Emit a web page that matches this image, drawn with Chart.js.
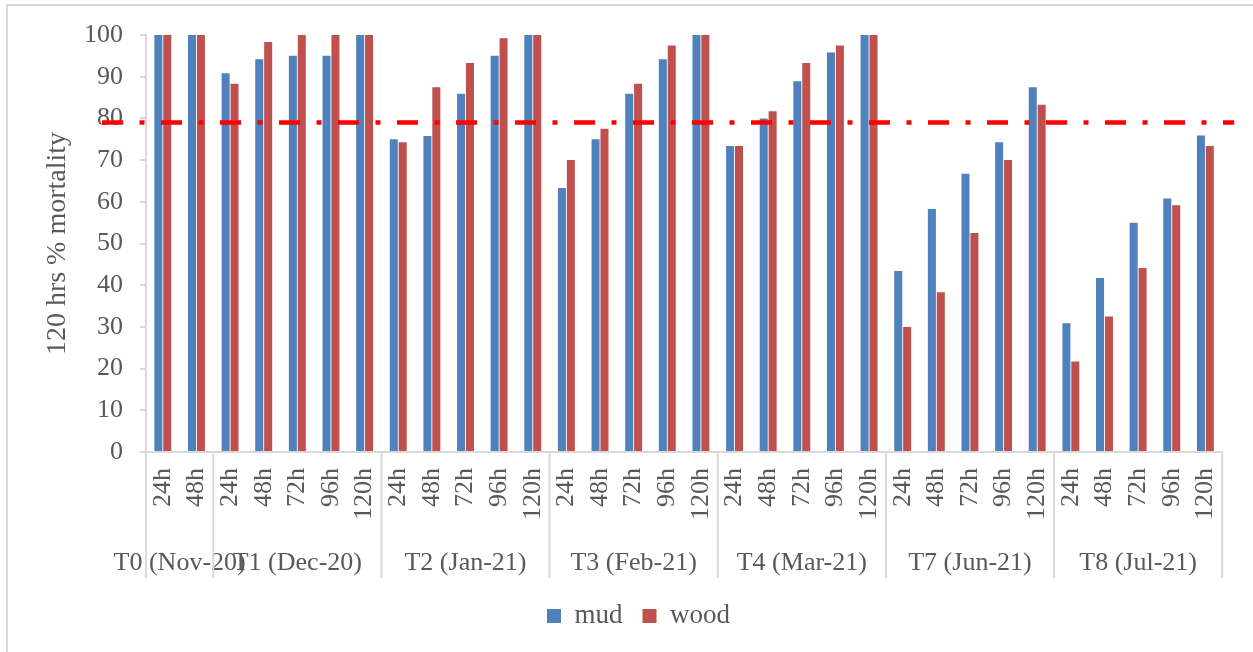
<!DOCTYPE html>
<html>
<head>
<meta charset="utf-8">
<script src="https://cdn.jsdelivr.net/npm/chart.js@4.4.1/dist/chart.umd.min.js"></script>
<style>
  html, body { margin: 0; padding: 0; background: #ffffff; }
  #wrap { position: relative; width: 1253px; height: 652px; }
</style>
</head>
<body>
<div id="wrap"><canvas id="chart"></canvas></div>
<script>
// Exposure-time labels for every bar pair, grouped by sampling round
const hourLabels = [
  '24h', '48h',
  '24h', '48h', '72h', '96h', '120h',
  '24h', '48h', '72h', '96h', '120h',
  '24h', '48h', '72h', '96h', '120h',
  '24h', '48h', '72h', '96h', '120h',
  '24h', '48h', '72h', '96h', '120h',
  '24h', '48h', '72h', '96h', '120h'
];
const roundNames = ['T0 (Nov-20)', 'T1 (Dec-20)', 'T2 (Jan-21)', 'T3 (Feb-21)', 'T4 (Mar-21)', 'T7 (Jun-21)', 'T8 (Jul-21)'];
const roundSizes = [2, 5, 5, 5, 5, 5, 5];

// % mortality after 120 hrs
const mud = [
  100, 100,
  90.8, 94.2, 95.0, 95.0, 100,
  75.0, 75.8, 85.9, 95.0, 100,
  63.3, 75.0, 85.9, 94.2, 100,
  73.4, 80.0, 88.9, 95.8, 100,
  43.4, 58.3, 66.7, 74.3, 87.5,
  30.9, 41.7, 55.0, 60.8, 75.9
];
const wood = [
  100, 100,
  88.3, 98.3, 100, 100, 100,
  74.3, 87.5, 93.3, 99.2, 100,
  70.0, 77.5, 88.3, 97.5, 100,
  73.4, 81.7, 93.3, 97.5, 100,
  30.0, 38.3, 52.5, 70.0, 83.3,
  21.7, 32.5, 44.1, 59.2, 73.4
];
const threshold = 79;

const FONT = "'Liberation Serif', 'Times New Roman', serif";
const TEXT = '#595959';
const LINE = '#D9D9D9';

// White background plus the light frame around the whole figure
const framePlugin = {
  id: 'frame',
  beforeDraw(chart) {
    const ctx = chart.ctx;
    ctx.save();
    ctx.fillStyle = '#ffffff';
    ctx.fillRect(0, 0, chart.width, chart.height);
    ctx.strokeStyle = LINE;
    ctx.lineWidth = 2;
    ctx.strokeRect(7, 5, chart.width + 20, chart.height + 20);
    ctx.restore();
  }
};

// Dash-dot reference line at the threshold value
const thresholdPlugin = {
  id: 'threshold',
  afterDatasetsDraw(chart) {
    const { ctx, chartArea } = chart;
    const y = chart.scales.y.getPixelForValue(threshold);
    ctx.save();
    ctx.strokeStyle = '#FF0000';
    ctx.lineWidth = 4.5;
    ctx.setLineDash([21, 16.5, 5, 16.5]);
    ctx.beginPath();
    ctx.moveTo(chartArea.left - 44, y);
    ctx.lineTo(chartArea.right + 12, y);
    ctx.stroke();
    ctx.restore();
  }
};

// Second level of the category axis: round names and divider lines
const roundAxisPlugin = {
  id: 'roundAxis',
  afterDraw(chart) {
    const { ctx, chartArea } = chart;
    const x = chart.scales.x;
    const half = (x.getPixelForValue(1) - x.getPixelForValue(0)) / 2;
    const top = chartArea.bottom;
    const bottom = top + 126;
    ctx.save();
    ctx.strokeStyle = LINE;
    ctx.lineWidth = 2;
    ctx.fillStyle = TEXT;
    ctx.font = '26px ' + FONT;
    ctx.textAlign = 'center';
    ctx.textBaseline = 'middle';
    let start = 0;
    roundSizes.forEach((n, g) => {
      const left = x.getPixelForValue(start) - half;
      const right = x.getPixelForValue(start + n - 1) + half;
      ctx.beginPath();
      ctx.moveTo(left, top);
      ctx.lineTo(left, bottom);
      if (g === roundSizes.length - 1) {
        ctx.moveTo(right, top);
        ctx.lineTo(right, bottom);
      }
      ctx.stroke();
      ctx.fillText(roundNames[g], (left + right) / 2, top + 111);
      start += n;
    });
    ctx.restore();
  }
};

new Chart(document.getElementById('chart'), {
  type: 'bar',
  data: {
    labels: hourLabels,
    datasets: [
      { label: 'mud', data: mud, backgroundColor: '#4F81BD', categoryPercentage: 0.53, barPercentage: 0.9 },
      { label: 'wood', data: wood, backgroundColor: '#C0504D', categoryPercentage: 0.53, barPercentage: 0.9 }
    ]
  },
  options: {
    responsive: true,
    maintainAspectRatio: false,
    animation: false,
    layout: { padding: { left: 51, right: 27, top: 35, bottom: 12.5 } },
    plugins: {
      legend: {
        position: 'bottom',
        labels: {
          boxWidth: 14,
          boxHeight: 14,
          padding: 20,
          color: TEXT,
          font: { family: FONT, size: 27 }
        }
      },
      tooltip: { enabled: false }
    },
    scales: {
      x: {
        grid: { display: false, drawTicks: false },
        border: { display: true, color: LINE, width: 2 },
        ticks: {
          autoSkip: false,
          minRotation: 90,
          maxRotation: 90,
          padding: 16,
          color: TEXT,
          font: { family: FONT, size: 26 }
        },
        afterFit(scale) { scale.height = 130.5; }
      },
      y: {
        min: 0,
        max: 100,
        grid: { drawOnChartArea: false, drawTicks: true, tickLength: 6, color: LINE, lineWidth: 2 },
        border: { display: true, color: LINE, width: 2 },
        ticks: {
          stepSize: 10,
          padding: 17,
          color: TEXT,
          font: { family: FONT, size: 26 }
        },
        title: {
          display: true,
          text: '120 hrs % mortality',
          color: TEXT,
          font: { family: FONT, size: 28 },
          padding: { top: -10, bottom: 0 }
        },
        afterFit(scale) { scale.width = 95; }
      }
    }
  },
  plugins: [framePlugin, thresholdPlugin, roundAxisPlugin]
});
</script>
</body>
</html>
